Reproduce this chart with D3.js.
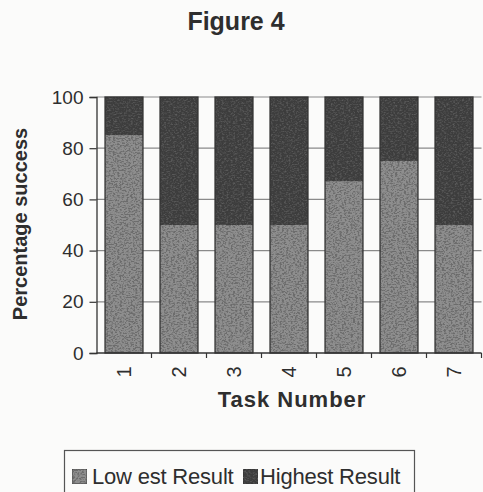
<!DOCTYPE html>
<html>
<head>
<meta charset="utf-8">
<script src="https://cdn.jsdelivr.net/npm/d3@7"></script>
<style>
  html, body { margin: 0; padding: 0; background: #fbfbfa; }
  svg { display: block; }
  text { font-family: Arial, "Liberation Sans", sans-serif; fill: #2e2e2e; }
</style>
</head>
<body>
<svg id="chart" width="483" height="492"></svg>
<script>
// Percentage success per task, split into lowest and highest result
const tasks = ["1", "2", "3", "4", "5", "6", "7"];
const lowestResult = [85, 50, 50, 50, 67, 75, 50];
const highestResult = [15, 50, 50, 50, 33, 25, 50];
const seriesNames = ["Lowest Result", "Highest Result"];
const yTicks = [0, 20, 40, 60, 80, 100];

const svg = d3.select("#chart");
const margin = { left: 96.5, right: 1.5, top: 97, bottom: 139 };
const W = 483, H = 492;

const x = d3.scaleBand()
  .domain(tasks)
  .range([margin.left, W - margin.right])
  .paddingInner(0.31)
  .paddingOuter(0.155);

const y = d3.scaleLinear()
  .domain([0, 100])
  .range([H - margin.bottom, margin.top]);

// Grainy print texture for the bar fills
const defs = svg.append("defs");
function addGrain(id, strength, seed) {
  const f = defs.append("filter").attr("id", id)
    .attr("x", 0).attr("y", 0).attr("width", 1).attr("height", 1);
  f.append("feTurbulence")
    .attr("type", "fractalNoise").attr("baseFrequency", "0.45 0.7")
    .attr("numOctaves", 3).attr("seed", seed).attr("result", "noise");
  f.append("feColorMatrix").attr("in", "noise").attr("type", "matrix")
    .attr("values", `0 0 0 0 0.15  0 0 0 0 0.15  0 0 0 0 0.15  -${strength} 0 0 0 ${strength * 0.55}`)
    .attr("result", "speck");
  f.append("feComposite").attr("in", "speck").attr("in2", "SourceGraphic")
    .attr("operator", "in").attr("result", "speckIn");
  const m = f.append("feMerge");
  m.append("feMergeNode").attr("in", "SourceGraphic");
  m.append("feMergeNode").attr("in", "speckIn");
}
addGrain("grain", 5, 4);
addGrain("grainDark", 1.5, 9);

// Title
svg.append("text")
  .attr("x", 236).attr("y", 30)
  .attr("text-anchor", "middle")
  .attr("font-size", 25).attr("font-weight", "bold")
  .text("Figure 4");

// Horizontal gridlines
svg.append("g")
  .selectAll("line")
  .data(yTicks.filter(d => d > 0))
  .join("line")
  .attr("x1", margin.left).attr("x2", W - margin.right)
  .attr("y1", d => y(d)).attr("y2", d => y(d))
  .attr("stroke", "#8a8a8a").attr("stroke-width", 1.2);

// Stacked bars
const table = tasks.map((t, i) => ({ task: t, "Lowest Result": lowestResult[i], "Highest Result": highestResult[i] }));
const stacked = d3.stack().keys(seriesNames)(table);
const fills = { "Lowest Result": "#8e8e8e", "Highest Result": "#3d3d3d" };
const grains = { "Lowest Result": "url(#grain)", "Highest Result": "url(#grainDark)" };

svg.append("g")
  .selectAll("g")
  .data(stacked)
  .join("g")
  .attr("fill", d => fills[d.key])
  .selectAll("rect")
  .data(d => d.map(v => Object.assign(v, { key: d.key })))
  .join("rect")
  .attr("x", d => x(d.data.task))
  .attr("width", x.bandwidth())
  .attr("y", d => y(d[1]))
  .attr("height", d => y(d[0]) - y(d[1]))
  .attr("filter", d => grains[d.key]);

// Bar outlines
svg.append("g")
  .selectAll("rect")
  .data(tasks)
  .join("rect")
  .attr("x", d => x(d)).attr("width", x.bandwidth())
  .attr("y", y(100)).attr("height", y(0) - y(100))
  .attr("fill", "none").attr("stroke", "#333").attr("stroke-width", 1.3);

// Y axis
const yAxis = svg.append("g")
  .attr("transform", `translate(${margin.left},0)`)
  .call(d3.axisLeft(y).tickValues(yTicks).tickSize(7).tickPadding(6));
yAxis.select(".domain").attr("stroke", "#333").attr("stroke-width", 1.3);
yAxis.selectAll(".tick line").attr("stroke", "#333").attr("stroke-width", 1.2);
yAxis.selectAll(".tick text")
  .attr("font-size", 19).attr("fill", "#2e2e2e")
  .attr("font-family", "Arial, 'Liberation Sans', sans-serif");

// X axis with ticks at the category boundaries
const xAxisY = y(0);
const boundaries = tasks.map(t => x(t) - x.step() * x.paddingInner() / 2);
boundaries.push(W - margin.right);
const xg = svg.append("g");
xg.append("line")
  .attr("x1", margin.left).attr("x2", W - margin.right)
  .attr("y1", xAxisY).attr("y2", xAxisY)
  .attr("stroke", "#333").attr("stroke-width", 1.3);
xg.selectAll("line.tk")
  .data(boundaries.slice(1))
  .join("line").attr("class", "tk")
  .attr("x1", d => d).attr("x2", d => d)
  .attr("y1", xAxisY).attr("y2", xAxisY + 5)
  .attr("stroke", "#333").attr("stroke-width", 1.2);
xg.selectAll("text")
  .data(tasks)
  .join("text")
  .attr("transform", d => `translate(${x(d) + x.bandwidth() / 2 + 7},${xAxisY + 19}) rotate(-90)`)
  .attr("text-anchor", "middle")
  .attr("font-size", 20)
  .text(d => d);

// Axis titles
svg.append("text")
  .attr("transform", "translate(27,224) rotate(-90)")
  .attr("text-anchor", "middle")
  .attr("font-size", 20).attr("font-weight", "bold")
  .text("Percentage success");

svg.append("text")
  .attr("x", 292).attr("y", 407)
  .attr("text-anchor", "middle")
  .attr("font-size", 22).attr("font-weight", "bold")
  .attr("letter-spacing", 1)
  .text("Task Number");

// Legend
const legend = svg.append("g");
legend.append("rect")
  .attr("x", 64.5).attr("y", 450.5).attr("width", 350).attr("height", 60)
  .attr("fill", "none").attr("stroke", "#555").attr("stroke-width", 1.2);
const legendItems = [
  { name: seriesNames[0], label: "Low est Result", sx: 72, tx: 92 },
  { name: seriesNames[1], label: "Highest Result", sx: 243, tx: 260 }
];
legendItems.forEach(it => {
  legend.append("rect")
    .attr("x", it.sx).attr("y", 469).attr("width", 15).attr("height", 15)
    .attr("fill", fills[it.name])
    .attr("filter", grains[it.name])
    .attr("stroke", "#333").attr("stroke-width", 1);
  legend.append("text")
    .attr("x", it.tx).attr("y", 484)
    .attr("font-size", 22)
    .attr("letter-spacing", -0.2)
    .text(it.label);
});
</script>
</body>
</html>
